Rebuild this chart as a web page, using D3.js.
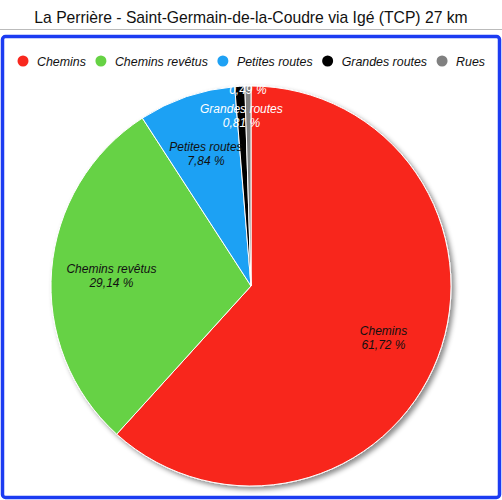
<!DOCTYPE html>
<html>
<head>
<meta charset="utf-8">
<script src="https://cdn.jsdelivr.net/npm/d3@7"></script>
<style>
  body { margin: 0; background: #fff; }
  svg { display: block; font-family: "Liberation Sans", Arial, sans-serif; }
</style>
</head>
<body>
<svg id="chart" width="502" height="500"></svg>
<script>
// data
var categories = ["Chemins", "Chemins revêtus", "Petites routes", "Grandes routes", "Rues"];
var values = [61.72, 29.14, 7.84, 0.81, 0.49];
var colors = ["#f8281e", "#66d244", "#1ea1f4", "#000000", "#808080"];
var labelColors = ["#111", "#111", "#111", "#fff", "#fff"];
// where the slice labels sit, as a fraction of the radius
var labelRadius = [0.71, 0.70, 0.70, 0.855, 1.02];
var title = "La Perrière - Saint-Germain-de-la-Coudre via Igé (TCP) 27 km";

var svg = d3.select("#chart");
var W = 502, H = 500;

var defs = svg.append("defs");
var shadow = defs.append("filter").attr("id", "shadow")
    .attr("x", "-10%").attr("y", "-10%").attr("width", "125%").attr("height", "125%");
shadow.append("feDropShadow")
    .attr("dx", 3).attr("dy", 3).attr("stdDeviation", 2.5)
    .attr("flood-color", "#000").attr("flood-opacity", 0.45);

// title + separator
svg.append("text")
    .attr("x", W / 2).attr("y", 23)
    .attr("text-anchor", "middle")
    .attr("font-size", 15.7)
    .attr("fill", "#111")
    .text(title);
svg.append("line")
    .attr("x1", 0).attr("x2", W).attr("y1", 29.5).attr("y2", 29.5)
    .attr("stroke", "#bbb").attr("stroke-width", 1);

// blue frame
svg.append("rect")
    .attr("x", 2.5).attr("y", 36.5).attr("width", W - 5).attr("height", H - 39)
    .attr("rx", 3)
    .attr("fill", "#fff")
    .attr("stroke", "#1c3cf2").attr("stroke-width", 3.5);

// legend
var legend = svg.append("g").attr("class", "legend");
var items = legend.selectAll("g").data(categories).enter().append("g");
items.append("circle")
    .attr("r", 5.5)
    .attr("cy", 0)
    .attr("fill", (d, i) => colors[i]);
items.append("text")
    .attr("x", 14).attr("y", 4.5)
    .attr("font-size", 12.4).attr("font-style", "italic")
    .attr("fill", "#111")
    .text(d => d);
var gap = 15;
var lx = 0;
items.each(function() {
    var g = d3.select(this);
    g.attr("transform", "translate(" + lx + ",0)");
    lx += 14 + g.select("text").node().getComputedTextLength() + gap;
});
lx -= gap;
legend.attr("transform", "translate(" + ((W - lx) / 2 + 3) + ",61)");

// pie
var cx = 251, cy = 286, R = 200;
var pie = d3.pie().sort(null).value(d => d);
var arcs = pie(values);
var arc = d3.arc().innerRadius(0).outerRadius(R);

var pieG = svg.append("g").attr("transform", "translate(" + cx + "," + cy + ")");
pieG.append("g").attr("filter", "url(#shadow)")
    .selectAll("path").data(arcs).enter()
    .append("path")
    .attr("d", arc)
    .attr("fill", (d, i) => colors[i])
    .attr("stroke", "#fff")
    .attr("stroke-width", 1);

var labels = pieG.selectAll(".slabel").data(arcs).enter()
    .append("text")
    .attr("class", "slabel")
    .attr("transform", function(d, i) {
        var a = (d.startAngle + d.endAngle) / 2;
        var r = R * labelRadius[i];
        return "translate(" + (Math.sin(a) * r) + "," + (-Math.cos(a) * r) + ")";
    })
    .attr("text-anchor", "middle")
    .attr("font-size", 12).attr("font-style", "italic")
    .attr("fill", (d, i) => labelColors[i]);
labels.append("tspan").attr("x", 0).attr("y", -2)
    .text((d, i) => categories[i]);
labels.append("tspan").attr("x", 0).attr("y", 12)
    .text(d => d3.format(".2f")(d.value).replace(".", ",") + " %");
</script>
</body>
</html>
